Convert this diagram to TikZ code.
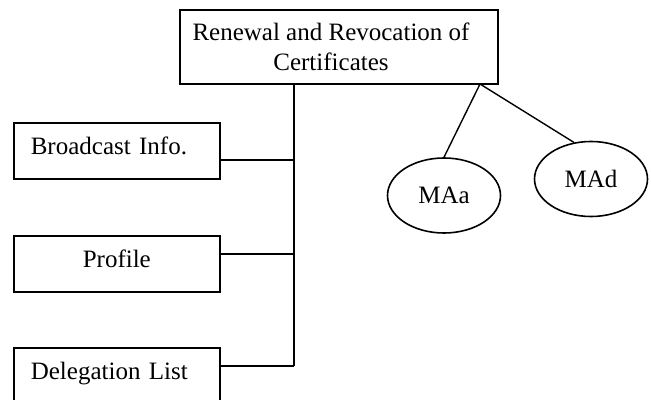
\documentclass[tikz,border=0pt]{standalone}
\usepackage{fontspec}
\setmainfont{Liberation Serif}
\usetikzlibrary{shapes.geometric}
\tikzset{
  leaf/.style={draw, line width=0.8pt, text width=86pt, inner xsep=8.5pt, inner ysep=4pt,
    text height=12pt, text depth=8pt, align=left, anchor=north west},
  role/.style={draw, ellipse, line width=0.8pt, minimum width=56.5pt, minimum height=37.5pt, inner sep=0pt},
}
\begin{document}
\begin{tikzpicture}[x=0.5pt, y=-0.5pt, line width=0.7pt, font=\fontsize{12.5}{15}\selectfont]
\useasboundingbox (0,0) rectangle (651,400);
\node[draw, line width=0.8pt, align=center, minimum width=159pt, minimum height=37pt] (root) at (339,47) {Renewal and Revocation of\hspace*{8pt}\\Certificates\hspace*{8pt}};
\node[leaf] (bcast) at (13,122) {Broadcast Info.};
\node[leaf, align=center] (profile) at (13,235) {Profile};
\node[leaf] (deleg) at (13,347) {Delegation List};
\node[role] (maa) at (444,195.5) {MAa};
\node[role] (mad) at (591,179) {MAd};
\coordinate (trunk) at (294,84);
\coordinate (fork) at (480,84);
\coordinate (bjoin) at (294,160);
\coordinate (pjoin) at (294,254);
\coordinate (djoin) at (294,366);
\draw (trunk) -- (djoin);
\draw (bcast.east |- bjoin) -- (bjoin);
\draw (profile.east |- pjoin) -- (pjoin);
\draw (deleg.east |- djoin) -- (djoin);
\draw (fork) -- (maa.north);
\draw (fork) -- (mad.115);
\end{tikzpicture}
\end{document}
